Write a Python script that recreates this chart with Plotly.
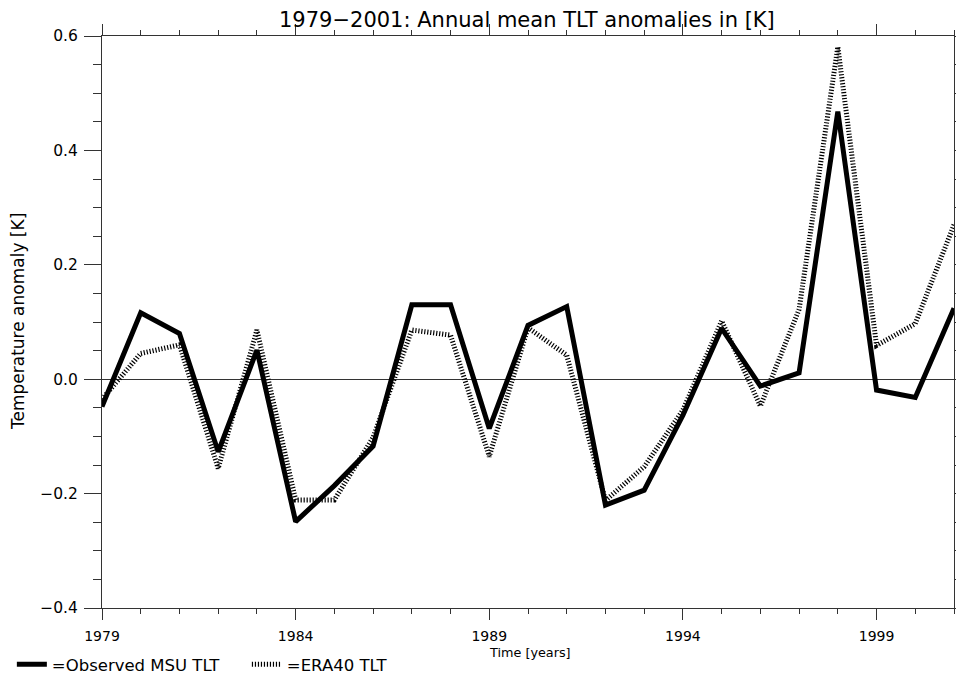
import plotly.graph_objects as go

years = list(range(1979, 2002))
msu_tlt = [-0.048, 0.116, 0.080, -0.127, 0.051, -0.249, -0.186, -0.117, 0.130, 0.130,
           -0.086, 0.094, 0.127, -0.220, -0.194, -0.063, 0.089, -0.012, 0.011, 0.468,
           -0.019, -0.032, 0.124]
era40_tlt = [-0.035, 0.045, 0.060, -0.156, 0.086, -0.211, -0.211, -0.102, 0.086, 0.077,
             -0.135, 0.090, 0.042, -0.212, -0.153, -0.054, 0.102, -0.047, 0.122, 0.581,
             0.059, 0.097, 0.270]
x_ticks = [1979, 1984, 1989, 1994, 1999]
y_ticks = [-0.4, -0.2, 0.0, 0.2, 0.4, 0.6]

FONT = "DejaVu Sans, sans-serif"

# The page body adds an 8px offset; lay out in page pixels and compensate.
OFF = 8
W, H = 964, 674
PL, PR, PT, PB = 102, 954, 36, 608          # plot area in page pixels
L, T = PL - OFF, PT - OFF
R, B = W - (PR - OFF), H - (PB - OFF)
PW, PH = PR - PL, PB - PT


def px_x(px):
    return (px - PL) / PW


def px_y(py):
    return (PB - py) / PH


def fnt(size):
    return dict(family=FONT, size=size, color="black")


fig = go.Figure()
fig.add_trace(go.Scatter(x=years, y=msu_tlt, mode="lines", name="=Observed MSU TLT",
                         line=dict(color="black", width=5)))
fig.add_trace(go.Scatter(x=years, y=era40_tlt, mode="lines", name="=ERA40 TLT",
                         line=dict(color="black", width=5, dash="1.2px,1.8px")))

axis_common = dict(showline=True, linecolor="#333", linewidth=1, mirror="ticks",
                   ticks="outside", tickcolor="#333", tickwidth=1, showgrid=False,
                   automargin=False)

fig.update_xaxes(range=[1979, 2001], tickvals=x_ticks, ticklen=11,
                 minor=dict(ticks="outside", dtick=1, tick0=1979, ticklen=5,
                            tickcolor="#333", showgrid=False),
                 zeroline=False, ticklabelstandoff=4,
                 tickfont=fnt(14), **axis_common)
fig.update_yaxes(range=[-0.4, 0.6], tickvals=y_ticks, tickformat=".1f", ticklen=17,
                 minor=dict(ticks="outside", dtick=0.05, tick0=0, ticklen=8,
                            tickcolor="#333", showgrid=False),
                 zeroline=True, zerolinecolor="#333", zerolinewidth=1,
                 ticklabelstandoff=3,
                 tickfont=fnt(15.5), **axis_common)

fig.update_layout(
    width=W, height=H,
    margin=dict(l=L, r=R, t=T, b=B, autoexpand=False),
    plot_bgcolor="white", paper_bgcolor="white",
    showlegend=True,
    legend=dict(orientation="h", xref="container", yref="container",
                x=0.004, y=0.0, xanchor="left", yanchor="bottom",
                font=fnt(16.5), entrywidth=190, itemwidth=30, bgcolor="rgba(0,0,0,0)"),
    annotations=[
        dict(text="1979\u22122001: Annual mean TLT anomalies in [K]", xref="paper", yref="paper",
             x=px_x(527), y=px_y(20), xanchor="center", yanchor="middle", showarrow=False,
             font=fnt(21)),
        dict(text="Time [years]", xref="paper", yref="paper",
             x=px_x(530), y=px_y(652), xanchor="center", yanchor="middle", showarrow=False,
             font=fnt(12.8)),
        dict(text="Temperature anomaly [K]", xref="paper", yref="paper",
             x=px_x(18), y=px_y(322), xanchor="center", yanchor="middle", showarrow=False,
             textangle=-90, font=fnt(17)),
    ],
)

fig.write_html("out.html")
